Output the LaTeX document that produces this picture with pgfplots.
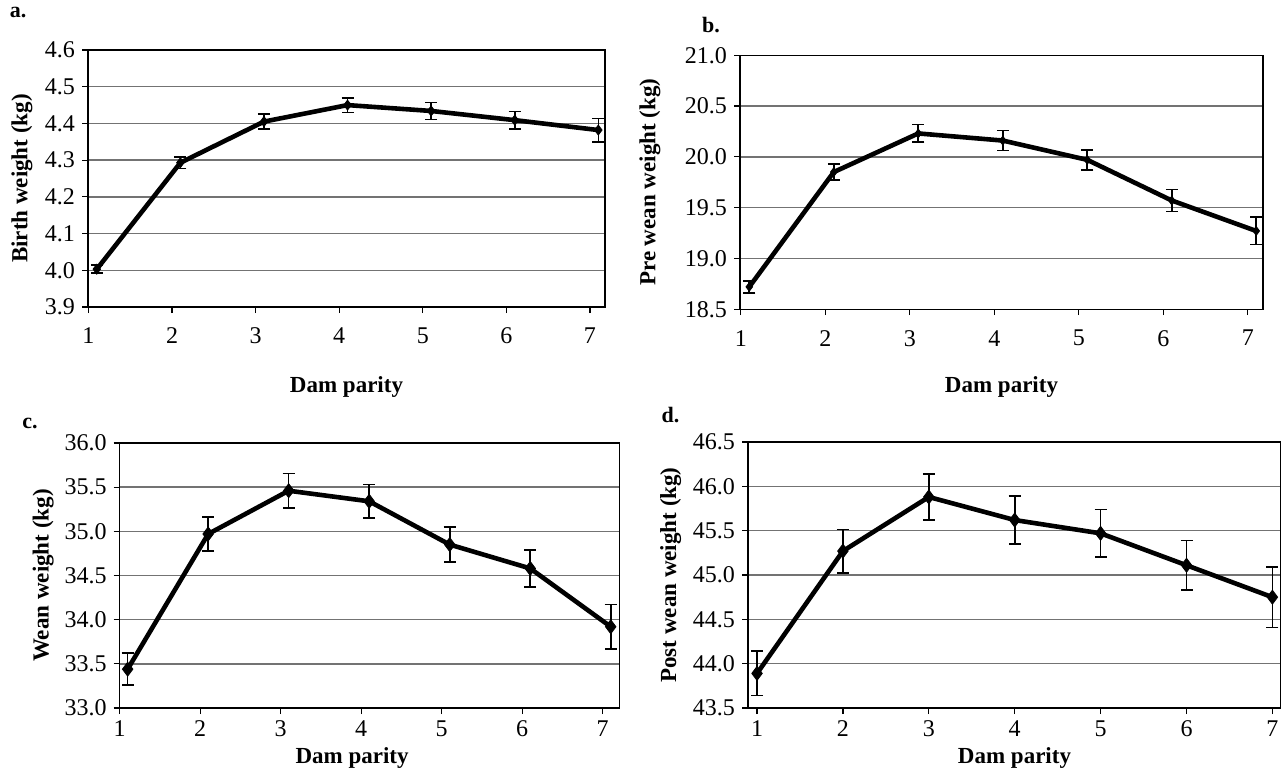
\documentclass[border=0pt]{standalone}
\usepackage{fontspec}
\setmainfont{Liberation Serif}
\usepackage{pgfplots}
\pgfplotsset{compat=1.18}

\pgfplotsset{
  panel/.style={
    scale only axis,
    anchor=south west,
    axis line style={black, line width=0.7pt},
    tick align=outside,
    xtick pos=bottom, ytick pos=left,
    major tick length=3pt,
    tick style={black, line width=0.6pt},
    ymajorgrids,
    grid style={black!55, line width=0.7pt},
    ticklabel style={font=\fontsize{12}{14}\selectfont},
    /pgf/number format/assume math mode=true,
    y tick label style={/pgf/number format/fixed, /pgf/number format/fixed zerofill, /pgf/number format/precision=1},
    label style={font=\fontsize{11.5}{13}\selectfont\bfseries},
    xlabel={Dam parity},
    xticklabels={1,2,3,4,5,6,7},
  },
  wline/.style={black, line width=2.3pt, mark=diamond*, mark size=#1,
    mark options={solid, line width=0.4pt},
    error bars/.cd, y dir=both, y explicit,
    error bar style={line width=0.8pt},
    error mark=-,
    error mark options={rotate=90, line width=0.8pt, mark size=3pt}},
}

\begin{document}
\begin{tikzpicture}
\useasboundingbox (0,0) rectangle (640.5pt,-386.5pt);

% a. birth weight
\begin{axis}[panel, at={(44pt,-153.5pt)}, width=258.5pt, height=128.5pt,
  xmin=0.895, xmax=7.08, ymin=3.9, ymax=4.6,
  xtick={0.9,1.9,2.9,3.9,4.9,5.9,6.9}, ytick={3.9,4.0,...,4.61},
  xticklabel style={yshift=-4pt},
  ylabel={Birth weight (kg)},
  ylabel style={at={(axis description cs:-0.128,0.5)}, anchor=center},
  xlabel style={at={(axis description cs:0.5,-0.31)}, anchor=center}]
\addplot[wline=2.5pt] coordinates {
  (1,4.003) +- (0,0.011) (2,4.293) +- (0,0.016) (3,4.405) +- (0,0.020)
  (4,4.450) +- (0,0.020) (5,4.434) +- (0,0.023) (6,4.409) +- (0,0.024)
  (7,4.382) +- (0,0.032)};
\end{axis}

% b. pre wean weight
\begin{axis}[panel, at={(370pt,-154.6pt)}, width=261.5pt, height=127pt,
  xmin=0.89, xmax=7.08, ymin=18.5, ymax=21.0,
  xtick={0.9,1.9,2.9,3.9,4.9,5.9,6.9}, ytick={18.5,19.0,...,21.01},
  xticklabel style={yshift=-4pt},
  ylabel={Pre wean weight (kg)},
  ylabel style={at={(axis description cs:-0.172,0.5)}, anchor=center},
  xlabel style={at={(axis description cs:0.5,-0.306)}, anchor=center}]
\addplot[wline=2.2pt] coordinates {
  (1,18.72) +- (0,0.060) (2,19.85) +- (0,0.080) (3,20.23) +- (0,0.087)
  (4,20.16) +- (0,0.098) (5,19.97) +- (0,0.098) (6,19.57) +- (0,0.108)
  (7,19.27) +- (0,0.135)};
\end{axis}

% c. wean weight
\begin{axis}[panel, at={(59.8pt,-354pt)}, width=250pt, height=132.5pt,
  xmin=0.9, xmax=7.11, ymin=33.0, ymax=36.0,
  xtick={0.9,1.9,2.9,3.9,4.9,5.9,6.9}, ytick={33.0,33.5,...,36.01},
  ylabel={Wean weight (kg)},
  ylabel style={at={(axis description cs:-0.153,0.5)}, anchor=center},
  xlabel style={at={(axis description cs:0.465,-0.19)}, anchor=center}]
\addplot[wline=3.5pt] coordinates {
  (1,33.44) +- (0,0.18) (2,34.97) +- (0,0.19) (3,35.46) +- (0,0.196)
  (4,35.34) +- (0,0.19) (5,34.85) +- (0,0.20) (6,34.58) +- (0,0.21)
  (7,33.92) +- (0,0.25)};
\end{axis}

% d. post wean weight
\begin{axis}[panel, at={(374pt,-354pt)}, width=266.5pt, height=133pt,
  xmin=0.895, xmax=7.1, ymin=43.5, ymax=46.5,
  xtick={1,...,7}, ytick={43.5,44.0,...,46.51},
  ylabel={Post wean weight (kg)},
  ylabel style={at={(axis description cs:-0.145,0.5)}, anchor=center},
  xlabel style={at={(axis description cs:0.5,-0.187)}, anchor=center}]
\addplot[wline=3.5pt] coordinates {
  (1,43.89) +- (0,0.25) (2,45.27) +- (0,0.245) (3,45.88) +- (0,0.26)
  (4,45.62) +- (0,0.27) (5,45.47) +- (0,0.27) (6,45.11) +- (0,0.28)
  (7,44.75) +- (0,0.34)};
\end{axis}

\node[font=\fontsize{11}{13}\selectfont\bfseries] at (9pt,-6pt) {a.};
\node[font=\fontsize{11}{13}\selectfont\bfseries] at (355.5pt,-12.5pt) {b.};
\node[font=\fontsize{11}{13}\selectfont\bfseries] at (15pt,-211.5pt) {c.};
\node[font=\fontsize{11}{13}\selectfont\bfseries] at (335.3pt,-207.5pt) {d.};
\end{tikzpicture}
\end{document}
